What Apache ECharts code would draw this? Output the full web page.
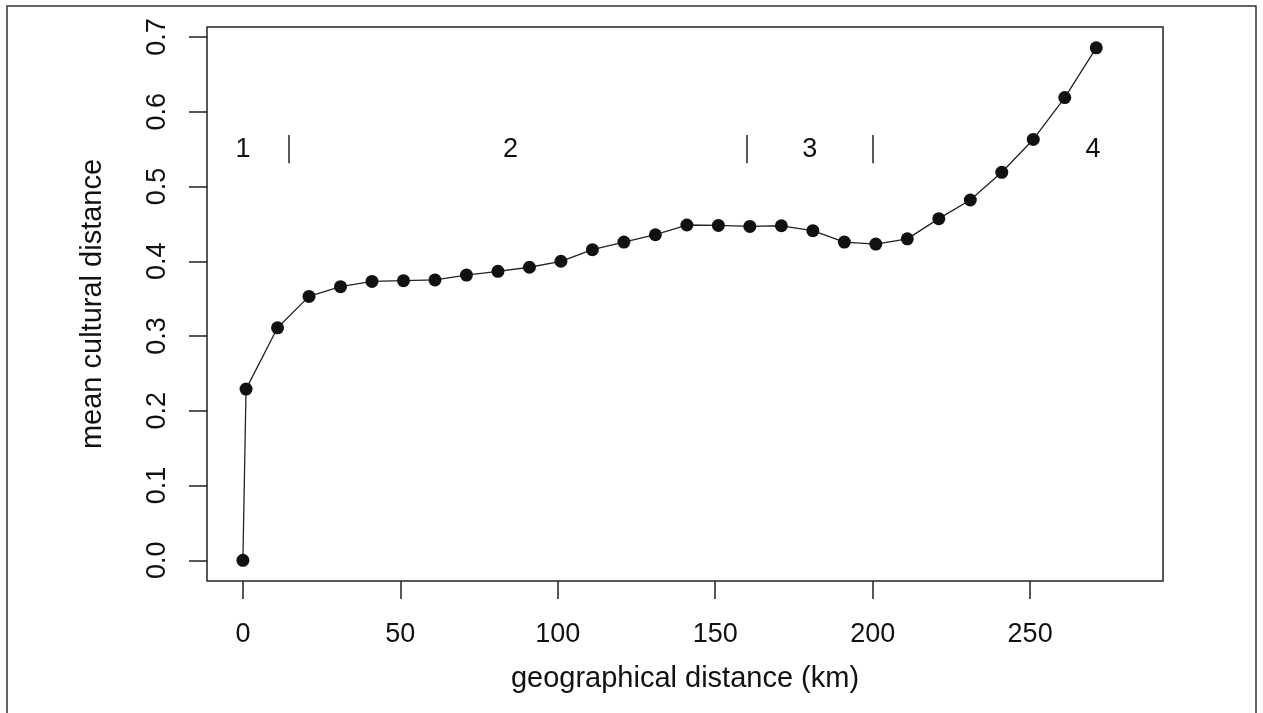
<!DOCTYPE html>
<html>
<head>
<meta charset="utf-8">
<script src="https://cdn.jsdelivr.net/npm/echarts@6/dist/echarts.min.js"></script>
<style>
  html, body { margin: 0; padding: 0; background: #fff; }
  #chart { width: 1263px; height: 713px; }
</style>
</head>
<body>
<div id="chart"></div>
<script>
  // data
  const distKm = [0, 1, 11, 21, 31, 41, 51, 61, 71, 81, 91, 101, 111, 121, 131, 141,
    151, 161, 171, 181, 191, 201, 211, 221, 231, 241, 251, 261, 271];
  const meanCultural = [0, 0.229, 0.311, 0.353, 0.366, 0.373, 0.374, 0.375, 0.3815, 0.3865,
    0.392, 0.400, 0.4155, 0.4257, 0.4355, 0.4485, 0.448, 0.4466, 0.4475, 0.441,
    0.4257, 0.423, 0.43, 0.457, 0.482, 0.519, 0.563, 0.619, 0.6855];

  const xTicks = [0, 50, 100, 150, 200, 250];
  const yTicks = [0, 0.1, 0.2, 0.3, 0.4, 0.5, 0.6, 0.7];
  const xLimits = [-11.4, 292.2];
  const yLimits = [-0.0277, 0.7134];

  // zone annotations
  const zoneNames = ['1', '2', '3', '4'];
  const zoneNameX = [0, 85, 180, 270];
  const zoneY = 0.55;
  const zoneBreaks = [14.5, 160, 200];
  const breakSpan = [0.531, 0.569];

  const font = '"Liberation Sans", Arial, Helvetica, sans-serif';
  const ink = '#111';

  const chart = echarts.init(document.getElementById('chart'));

  const option = {
    backgroundColor: '#fff',
    animation: false,
    textStyle: { fontFamily: font, color: ink },
    grid: {
      left: 207, top: 27, right: 100, bottom: 132,
      show: true, borderColor: '#222', borderWidth: 1.5, backgroundColor: 'transparent'
    },
    xAxis: {
      type: 'value',
      min: xLimits[0],
      max: xLimits[1],
      name: 'geographical distance (km)',
      nameLocation: 'middle',
      nameGap: 83,
      nameTextStyle: { fontSize: 29, color: ink, fontFamily: font },
      axisLine: { show: false, onZero: false },
      splitLine: { show: false },
      axisTick: {
        show: true, inside: false, length: 18, customValues: xTicks,
        lineStyle: { color: '#222', width: 1.5 }
      },
      axisLabel: {
        customValues: xTicks, fontSize: 27, color: ink, margin: 40, fontFamily: font
      }
    },
    yAxis: {
      type: 'value',
      min: yLimits[0],
      max: yLimits[1],
      name: 'mean cultural distance',
      nameLocation: 'middle',
      nameGap: 100,
      nameTextStyle: { fontSize: 29, color: ink, fontFamily: font },
      axisLine: { show: false, onZero: false },
      splitLine: { show: false },
      axisTick: {
        show: true, inside: false, length: 18, customValues: yTicks,
        lineStyle: { color: '#222', width: 1.5 }
      },
      axisLabel: {
        customValues: yTicks, fontSize: 27, color: ink, margin: 36, rotate: 90,
        fontFamily: font,
        formatter: (v) => v.toFixed(1)
      }
    },
    graphic: [{
      type: 'rect',
      shape: { x: 7, y: 6, width: 1249, height: 740 },
      style: { fill: 'none', stroke: '#333', lineWidth: 1.5 },
      silent: true
    }],
    series: [
      {
        type: 'line',
        data: distKm.map((x, i) => [x, meanCultural[i]]),
        symbol: 'circle',
        symbolSize: 13,
        itemStyle: { color: ink },
        lineStyle: { color: '#222', width: 1.3 },
        silent: true
      },
      {
        type: 'scatter',
        data: zoneNames.map((n, i) => [zoneNameX[i], zoneY, n]),
        symbolSize: 0,
        itemStyle: { opacity: 1, color: ink },
        label: {
          show: true,
          position: 'inside',
          formatter: (p) => p.data[2],
          fontSize: 27,
          color: ink,
          fontFamily: font
        },
        markLine: {
          silent: true,
          symbol: 'none',
          label: { show: false },
          lineStyle: { color: '#222', width: 1.5, type: 'solid' },
          data: zoneBreaks.map((x) => [{ coord: [x, breakSpan[0]] }, { coord: [x, breakSpan[1]] }])
        },
        silent: true
      }
    ]
  };

  chart.setOption(option);
</script>
</body>
</html>
